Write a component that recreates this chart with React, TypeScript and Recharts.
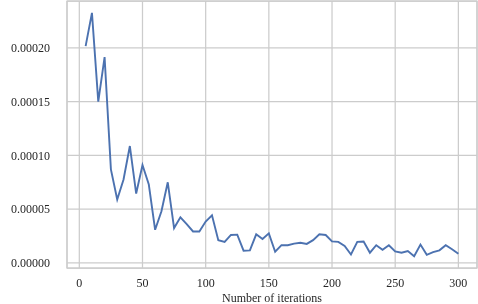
import React from "react";
import { LineChart, Line, XAxis, YAxis, CartesianGrid, ReferenceArea, Label } from "recharts";

// iterations on the x axis
const iterations = [
    5, 10, 15, 20, 25, 30, 35, 40, 45, 50,
    55, 60, 65, 70, 75, 80, 85, 90, 95, 100,
    105, 110, 115, 120, 125, 130, 135, 140, 145, 150,
    155, 160, 165, 170, 175, 180, 185, 190, 195, 200,
    205, 210, 215, 220, 225, 230, 235, 240, 245, 250,
    255, 260, 265, 270, 275, 280, 285, 290, 295, 300,
];

// values
const residual = [
    0.0002016, 0.0002324, 0.00015, 0.0001913, 0.000087, 0.000059, 0.0000776, 0.0001087, 0.0000645, 0.000091,
    0.0000729, 0.0000308, 0.000048, 0.000075, 0.0000324, 0.0000424, 0.0000361, 0.0000293, 0.0000293, 0.0000385,
    0.0000443, 0.0000212, 0.0000196, 0.000026, 0.0000263, 0.0000114, 0.0000117, 0.0000266, 0.0000222, 0.0000275,
    0.0000104, 0.0000165, 0.0000165, 0.000018, 0.0000187, 0.0000177, 0.0000212, 0.0000266, 0.000026, 0.00002,
    0.0000196, 0.0000158, 0.0000079, 0.0000196, 0.00002, 0.0000095, 0.0000165, 0.0000123, 0.0000165, 0.0000108,
    0.0000095, 0.0000111, 0.0000063, 0.0000171, 0.0000076, 0.0000101, 0.0000117, 0.0000165, 0.0000127, 0.0000085,
];

const xTicks = [0, 50, 100, 150, 200, 250, 300];
const yTicks = [0, 0.00005, 0.0001, 0.00015, 0.0002];

const data = iterations.map((it, i) => ({ it, value: residual[i] }));

const xDomain: [number, number] = [-9.75, 314.75];
const yDomain: [number, number] = [-0.0000047, 0.0002435];

const font = "'Liberation Serif', 'DejaVu Serif', serif";
const tickStyle = { fontFamily: font, fontSize: 12, fill: "#262626" };

export default function App() {
    return (
        <div style={{ position: "fixed", left: -10, top: 0 }}>
            <LineChart width={488} height={304} data={data} margin={{ top: 1, right: 1, bottom: 0, left: 0 }}>
                <CartesianGrid stroke="#cccccc" strokeWidth={1.25} />
                <ReferenceArea
                    x1={xDomain[0]}
                    x2={xDomain[1]}
                    y1={yDomain[0]}
                    y2={yDomain[1]}
                    fill="none"
                    stroke="#cccccc"
                    strokeWidth={1.25}
                    fillOpacity={0}
                />
                <XAxis
                    dataKey="it"
                    type="number"
                    domain={xDomain}
                    ticks={xTicks}
                    allowDataOverflow
                    height={36}
                    axisLine={false}
                    tickLine={false}
                    tickSize={0}
                    tickMargin={10}
                    tick={tickStyle}
                >
                    <Label
                        value="Number of iterations"
                        position="insideBottom"
                        offset={2}
                        style={{ fontFamily: font, fontSize: 12, fill: "#262626" }}
                    />
                </XAxis>
                <YAxis
                    type="number"
                    domain={yDomain}
                    ticks={yTicks}
                    allowDataOverflow
                    width={77}
                    axisLine={false}
                    tickLine={false}
                    tickSize={0}
                    tickMargin={17}
                    tick={tickStyle}
                    tickFormatter={(v: number) => v.toFixed(5)}
                >
                    <Label
                        content={() => (
                            <text
                                x={9.5}
                                y={128}
                                transform="rotate(-90 9.5 128)"
                                textAnchor="middle"
                                fontFamily={font}
                                fontSize={12}
                                fill="#262626"
                            >
                                Residual
                            </text>
                        )}
                    />
                </YAxis>
                <Line
                    type="linear"
                    dataKey="value"
                    stroke="#4C72B0"
                    strokeWidth={1.9}
                    dot={false}
                    isAnimationActive={false}
                />
            </LineChart>
        </div>
    );
}
